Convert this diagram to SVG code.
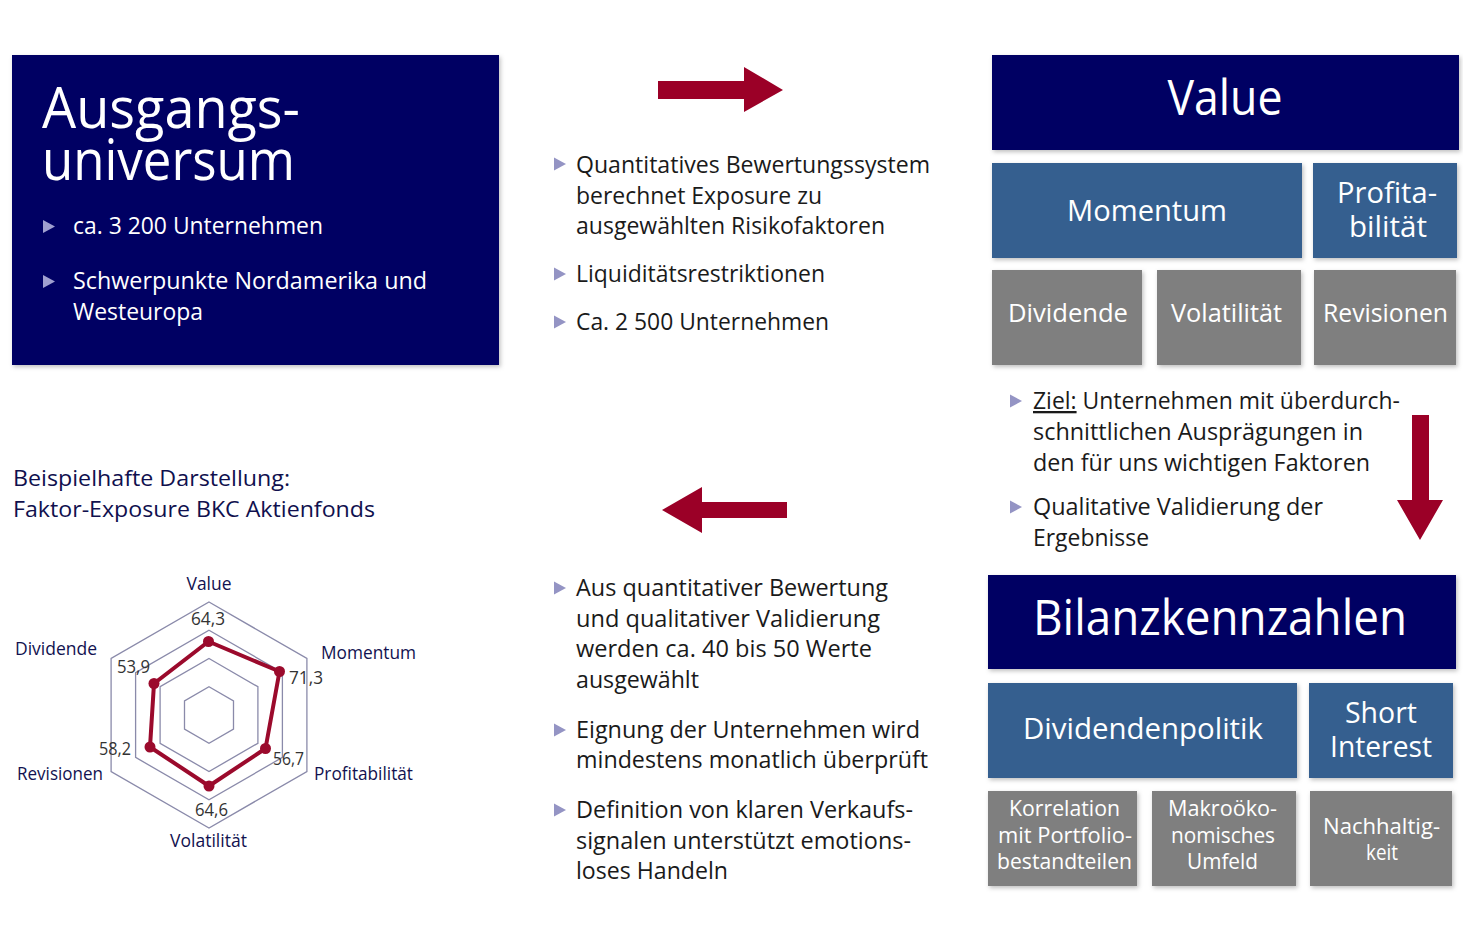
<svg xmlns="http://www.w3.org/2000/svg" width="1463" height="942" viewBox="0 0 1463 942">
<style>
text{font-family:"Open Sans","Noto Sans","Liberation Sans",sans-serif;}
.navy{fill:#000064;}
.mid{fill:#355F8F;}
.gray{fill:#7F7F7F;}
.wt{fill:#ffffff;}
.body{fill:#1a1a1a;font-size:23px;}
.bl{fill:#ffffff;font-size:23px;}
.bul{fill:#9494C4;}
.bulw{fill:#A0A0D0;}
.grid{fill:none;stroke:#8A8AAA;stroke-width:1.3;}
.lbl{fill:#121250;font-size:18px;}
.val{fill:#333333;font-size:18px;}
.arrow{fill:#9B0027;}
</style>
<defs>
<filter id="sh" x="-5%" y="-5%" width="112%" height="115%">
<feDropShadow dx="1.5" dy="2" stdDeviation="2" flood-color="#000" flood-opacity="0.25"/>
</filter>
<polygon id="tri" points="0,-6.5 12,0 0,6.5"/>
</defs>

<g id="connectors">
<polygon class="arrow" points="658,81 744,81 744,67 783,90 744,112 744,99 658,99"/>
<polygon class="arrow" points="787,502 702,502 702,487 662,510 702,533 702,518 787,518"/>
<polygon class="arrow" points="1412,415 1429,415 1429,500 1443,500 1420,540 1397,500 1412,500"/>
</g>

<g id="ausgangsuniversum">
<rect class="navy" x="12" y="55" width="487" height="310" filter="url(#sh)"/>
<text class="wt" x="42" y="128" font-size="57" textLength="258" lengthAdjust="spacingAndGlyphs">Ausgangs-</text>
<text class="wt" x="42" y="180" font-size="57" textLength="253" lengthAdjust="spacingAndGlyphs">universum</text>
<use href="#tri" class="bulw" x="43" y="226.5"/>
<text class="bl" x="73" y="234" textLength="250" lengthAdjust="spacingAndGlyphs">ca. 3 200 Unternehmen</text>
<use href="#tri" class="bulw" x="43" y="281.5"/>
<text class="bl" x="73" y="289" textLength="354" lengthAdjust="spacingAndGlyphs">Schwerpunkte Nordamerika und</text>
<text class="bl" x="73" y="320" textLength="130" lengthAdjust="spacingAndGlyphs">Westeuropa</text>
</g>

<g id="text-quant">
<use href="#tri" class="bul" x="554" y="164"/>
<text class="body" x="576" y="173" textLength="354" lengthAdjust="spacingAndGlyphs">Quantitatives Bewertungssystem</text>
<text class="body" x="576" y="204" textLength="246" lengthAdjust="spacingAndGlyphs">berechnet Exposure zu</text>
<text class="body" x="576" y="234" textLength="309" lengthAdjust="spacingAndGlyphs">ausgewählten Risikofaktoren</text>
<use href="#tri" class="bul" x="554" y="274"/>
<text class="body" x="576" y="282" textLength="249" lengthAdjust="spacingAndGlyphs">Liquiditätsrestriktionen</text>
<use href="#tri" class="bul" x="554" y="322"/>
<text class="body" x="576" y="330" textLength="253" lengthAdjust="spacingAndGlyphs">Ca. 2 500 Unternehmen</text>
</g>

<g id="value">
<rect class="navy" x="992" y="55" width="467" height="95" filter="url(#sh)"/>
<text class="wt" x="1225" y="115" font-size="50" text-anchor="middle" textLength="115" lengthAdjust="spacingAndGlyphs">Value</text>
</g>
<g id="momentum">
<rect class="mid" x="992" y="163" width="310" height="95" filter="url(#sh)"/>
<text class="wt" x="1147" y="221" font-size="30" text-anchor="middle" textLength="160" lengthAdjust="spacingAndGlyphs">Momentum</text>
</g>
<g id="profitabilitaet">
<rect class="mid" x="1313" y="163" width="144" height="95" filter="url(#sh)"/>
<text class="wt" x="1387" y="203" font-size="29" text-anchor="middle" textLength="100" lengthAdjust="spacingAndGlyphs">Profita-</text>
<text class="wt" x="1388" y="237" font-size="29" text-anchor="middle" textLength="78" lengthAdjust="spacingAndGlyphs">bilität</text>
</g>
<g id="dividende">
<rect class="gray" x="992" y="270" width="150" height="95" filter="url(#sh)"/>
<text class="wt" x="1068" y="322" font-size="26" text-anchor="middle" textLength="120" lengthAdjust="spacingAndGlyphs">Dividende</text>
</g>
<g id="volatilitaet">
<rect class="gray" x="1157" y="270" width="144" height="95" filter="url(#sh)"/>
<text class="wt" x="1226.5" y="322" font-size="26" text-anchor="middle" textLength="111" lengthAdjust="spacingAndGlyphs">Volatilität</text>
</g>
<g id="revisionen">
<rect class="gray" x="1314" y="270" width="142" height="95" filter="url(#sh)"/>
<text class="wt" x="1385.5" y="322" font-size="26" text-anchor="middle" textLength="125" lengthAdjust="spacingAndGlyphs">Revisionen</text>
</g>

<g id="text-ziel">
<use href="#tri" class="bul" x="1010" y="401"/>
<text class="body" x="1033" y="409" textLength="367" lengthAdjust="spacingAndGlyphs"><tspan text-decoration="underline">Ziel:</tspan> Unternehmen mit überdurch-</text>
<text class="body" x="1033" y="440" textLength="330" lengthAdjust="spacingAndGlyphs">schnittlichen Ausprägungen in</text>
<text class="body" x="1033" y="471" textLength="337" lengthAdjust="spacingAndGlyphs">den für uns wichtigen Faktoren</text>
<use href="#tri" class="bul" x="1010" y="507"/>
<text class="body" x="1033" y="515" textLength="290" lengthAdjust="spacingAndGlyphs">Qualitative Validierung der</text>
<text class="body" x="1033" y="546" textLength="116" lengthAdjust="spacingAndGlyphs">Ergebnisse</text>
</g>

<g id="bilanzkennzahlen">
<rect class="navy" x="988" y="575" width="468" height="94" filter="url(#sh)"/>
<text class="wt" x="1220" y="635" font-size="50" text-anchor="middle" textLength="374" lengthAdjust="spacingAndGlyphs">Bilanzkennzahlen</text>
</g>
<g id="dividendenpolitik">
<rect class="mid" x="988" y="683" width="309" height="95" filter="url(#sh)"/>
<text class="wt" x="1143" y="739" font-size="30" text-anchor="middle" textLength="240" lengthAdjust="spacingAndGlyphs">Dividendenpolitik</text>
</g>
<g id="short-interest">
<rect class="mid" x="1309" y="683" width="144" height="95" filter="url(#sh)"/>
<text class="wt" x="1381" y="723" font-size="29" text-anchor="middle" textLength="72" lengthAdjust="spacingAndGlyphs">Short</text>
<text class="wt" x="1381" y="757" font-size="29" text-anchor="middle" textLength="102" lengthAdjust="spacingAndGlyphs">Interest</text>
</g>
<g id="korrelation">
<rect class="gray" x="988" y="791" width="149" height="95" filter="url(#sh)"/>
<text class="wt" x="1064.5" y="816" font-size="22" text-anchor="middle" textLength="111" lengthAdjust="spacingAndGlyphs">Korrelation</text>
<text class="wt" x="1065" y="843" font-size="22" text-anchor="middle" textLength="134" lengthAdjust="spacingAndGlyphs">mit Portfolio-</text>
<text class="wt" x="1064.5" y="869" font-size="22" text-anchor="middle" textLength="135" lengthAdjust="spacingAndGlyphs">bestandteilen</text>
</g>
<g id="makrooekonomisches-umfeld">
<rect class="gray" x="1152" y="791" width="144" height="95" filter="url(#sh)"/>
<text class="wt" x="1222.5" y="816" font-size="22" text-anchor="middle" textLength="109" lengthAdjust="spacingAndGlyphs">Makroöko-</text>
<text class="wt" x="1223" y="843" font-size="22" text-anchor="middle" textLength="104" lengthAdjust="spacingAndGlyphs">nomisches</text>
<text class="wt" x="1222.5" y="869" font-size="22" text-anchor="middle" textLength="71" lengthAdjust="spacingAndGlyphs">Umfeld</text>
</g>
<g id="nachhaltigkeit">
<rect class="gray" x="1310" y="791" width="142" height="95" filter="url(#sh)"/>
<text class="wt" x="1381.5" y="834" font-size="22" text-anchor="middle" textLength="117" lengthAdjust="spacingAndGlyphs">Nachhaltig-</text>
<text class="wt" x="1382" y="860" font-size="22" text-anchor="middle" textLength="32" lengthAdjust="spacingAndGlyphs">keit</text>
</g>

<g id="text-auswahl">
<use href="#tri" class="bul" x="554" y="588"/>
<text class="body" x="576" y="596" textLength="312" lengthAdjust="spacingAndGlyphs">Aus quantitativer Bewertung</text>
<text class="body" x="576" y="627" textLength="304" lengthAdjust="spacingAndGlyphs">und qualitativer Validierung</text>
<text class="body" x="576" y="657" textLength="296" lengthAdjust="spacingAndGlyphs">werden ca. 40 bis 50 Werte</text>
<text class="body" x="576" y="688" textLength="123" lengthAdjust="spacingAndGlyphs">ausgewählt</text>
<use href="#tri" class="bul" x="554" y="730"/>
<text class="body" x="576" y="738" textLength="344" lengthAdjust="spacingAndGlyphs">Eignung der Unternehmen wird</text>
<text class="body" x="576" y="768" textLength="352" lengthAdjust="spacingAndGlyphs">mindestens monatlich überprüft</text>
<use href="#tri" class="bul" x="554" y="810"/>
<text class="body" x="576" y="818" textLength="337" lengthAdjust="spacingAndGlyphs">Definition von klaren Verkaufs-</text>
<text class="body" x="576" y="849" textLength="335" lengthAdjust="spacingAndGlyphs">signalen unterstützt emotions-</text>
<text class="body" x="576" y="879" textLength="152" lengthAdjust="spacingAndGlyphs">loses Handeln</text>
</g>

<g id="chart-title">
<text x="13" y="486" font-size="21" fill="#10104E" textLength="277" lengthAdjust="spacingAndGlyphs">Beispielhafte Darstellung:</text>
<text x="13" y="517" font-size="21" fill="#10104E" textLength="362" lengthAdjust="spacingAndGlyphs">Faktor-Exposure BKC Aktienfonds</text>
</g>

<g id="radar-chart">
<polygon class="grid" points="209,602 306.9,658.5 306.9,771.5 209,828 111.1,771.5 111.1,658.5"/>
<polygon class="grid" points="209,630.25 282.4,672.6 282.4,757.4 209,799.75 135.6,757.4 135.6,672.6"/>
<polygon class="grid" points="209,658.5 257.9,686.75 257.9,743.25 209,771.5 160.1,743.25 160.1,686.75"/>
<polygon class="grid" points="209,686.75 233.5,700.9 233.5,729.1 209,743.25 184.5,729.1 184.5,700.9"/>
<polygon points="208.5,641.5 279.5,671.5 265.5,748.5 209,786 150,747 154,683.5" fill="none" stroke="#9B0A2C" stroke-width="4" stroke-linejoin="round"/>
<g fill="#9B0A2C">
<circle cx="208.5" cy="641.5" r="5.5"/>
<circle cx="279.5" cy="671.5" r="5.5"/>
<circle cx="265.5" cy="748.5" r="5.5"/>
<circle cx="209" cy="786" r="5.5"/>
<circle cx="150" cy="747" r="5.5"/>
<circle cx="154" cy="683.5" r="5.5"/>
</g>
<text class="lbl" x="209" y="590" text-anchor="middle" textLength="45" lengthAdjust="spacingAndGlyphs">Value</text>
<text class="lbl" x="15" y="655" textLength="82" lengthAdjust="spacingAndGlyphs">Dividende</text>
<text class="lbl" x="321" y="659" textLength="95" lengthAdjust="spacingAndGlyphs">Momentum</text>
<text class="lbl" x="17" y="780" textLength="86" lengthAdjust="spacingAndGlyphs">Revisionen</text>
<text class="lbl" x="314" y="780" textLength="99" lengthAdjust="spacingAndGlyphs">Profitabilität</text>
<text class="lbl" x="208.5" y="847" text-anchor="middle" textLength="77" lengthAdjust="spacingAndGlyphs">Volatilität</text>
<text class="val" x="208" y="625" text-anchor="middle" textLength="34" lengthAdjust="spacingAndGlyphs">64,3</text>
<text class="val" x="117" y="673" textLength="33" lengthAdjust="spacingAndGlyphs">53,9</text>
<text class="val" x="289" y="684" textLength="34" lengthAdjust="spacingAndGlyphs">71,3</text>
<text class="val" x="99" y="755" textLength="32" lengthAdjust="spacingAndGlyphs">58,2</text>
<text class="val" x="273" y="765" textLength="31" lengthAdjust="spacingAndGlyphs">56,7</text>
<text class="val" x="211.5" y="816" text-anchor="middle" textLength="33" lengthAdjust="spacingAndGlyphs">64,6</text>
</g>
</svg>
